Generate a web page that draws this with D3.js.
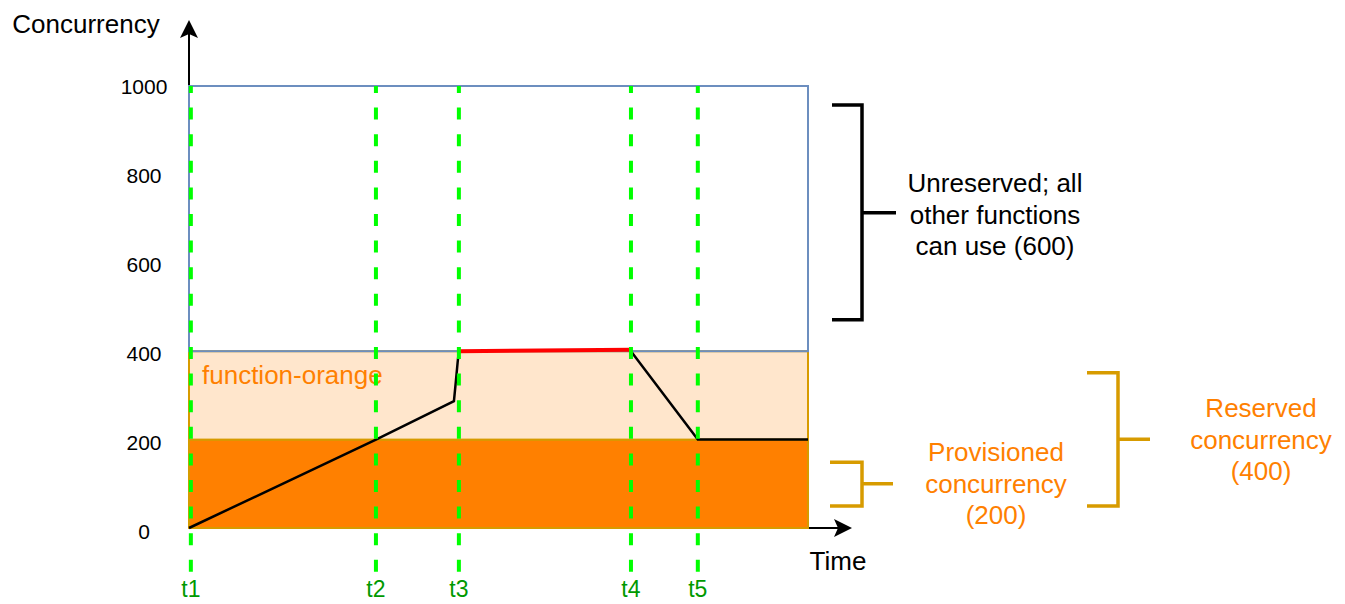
<!DOCTYPE html>
<html>
<head>
<meta charset="utf-8">
<script src="https://cdn.jsdelivr.net/npm/d3@7"></script>
<style>
  body { margin: 0; background: #fff; }
  svg { display: block; font-family: "Liberation Sans", Arial, Helvetica, sans-serif; }
</style>
</head>
<body>
<div id="chart"></div>
<script>
// y ticks
const yTicks = [0, 200, 400, 600, 800, 1000];

// time markers (x in arbitrary time units 0..100)
const timeNames = ["t1", "t2", "t3", "t4", "t5"];
const timeValues = [0.3, 30.2, 43.6, 71.4, 82.2];

// concurrency bands (drawn bottom first so the blue border sits on top)
const bands = [
  { lo: 0, hi: 200, fill: "#ff8000", stroke: "#d79b00" },
  { lo: 200, hi: 400, fill: "#ffe6cc", stroke: "#d79b00" },
  { lo: 400, hi: 1000, fill: "none", stroke: "#6c8ebf" }
];

// function usage over time
const rampUp = [[0, 0], [30.2, 200], [42.8, 287], [43.1, 330], [43.4, 375], [43.6, 400]];
const throttled = [[43.6, 400], [71.4, 403]];
const rampDown = [[71.4, 400], [82.2, 200], [100, 200]];

// bracket annotations: [top, bottom, middle] in concurrency units
const unreservedSpan = [957, 471, 713];
const provisionedSpan = [149, 50, 100];
const reservedSpan = [351, 50, 201];

const width = 1345, height = 604;
const margin = { top: 86, right: 537, bottom: 76, left: 189 };

const svg = d3.select("#chart").append("svg")
  .attr("width", width)
  .attr("height", height);

const x = d3.scaleLinear().domain([0, 100]).range([margin.left, width - margin.right]);
const y = d3.scaleLinear().domain([0, 1000]).range([height - margin.bottom, margin.top]);

// y axis arrow
svg.append("line")
  .attr("x1", x(0)).attr("x2", x(0))
  .attr("y1", y(0)).attr("y2", 30)
  .attr("stroke", "#000").attr("stroke-width", 2);
svg.append("path")
  .attr("d", `M${x(0)},20 L${x(0) + 9},38 L${x(0)},34 L${x(0) - 9},38 Z`)
  .attr("fill", "#000");

// x axis arrow
svg.append("line")
  .attr("x1", x(100)).attr("x2", x(100) + 38)
  .attr("y1", y(0)).attr("y2", y(0))
  .attr("stroke", "#000").attr("stroke-width", 2);
svg.append("path")
  .attr("d", `M${x(100) + 44},${y(0)} L${x(100) + 26},${y(0) - 9} L${x(100) + 30},${y(0)} L${x(100) + 26},${y(0) + 9} Z`)
  .attr("fill", "#000");

// bands
svg.selectAll("rect.band")
  .data(bands)
  .enter().append("rect")
  .attr("class", "band")
  .attr("x", x(0))
  .attr("width", x(100) - x(0))
  .attr("y", d => y(d.hi))
  .attr("height", d => y(d.lo) - y(d.hi))
  .attr("fill", d => d.fill)
  .attr("stroke", d => d.stroke)
  .attr("stroke-width", 2);

// y tick labels
svg.selectAll("text.ytick")
  .data(yTicks)
  .enter().append("text")
  .attr("class", "ytick")
  .attr("x", 144)
  .attr("y", d => y(d) + 8 + 3 * (1 - d / 1000))
  .attr("text-anchor", "middle")
  .attr("font-size", 21)
  .attr("fill", "#000")
  .text(d => d);

svg.append("text")
  .attr("x", 86).attr("y", 33)
  .attr("text-anchor", "middle")
  .attr("font-size", 26)
  .text("Concurrency");

svg.append("text")
  .attr("x", 838).attr("y", 570)
  .attr("text-anchor", "middle")
  .attr("font-size", 26)
  .text("Time");

svg.append("text")
  .attr("x", 202).attr("y", 384)
  .attr("font-size", 26)
  .attr("fill", "#ff8000")
  .text("function-orange");

// usage lines
const line = d3.line().x(d => x(d[0])).y(d => y(d[1]));
svg.append("path").datum(rampUp)
  .attr("d", line).attr("fill", "none")
  .attr("stroke", "#000").attr("stroke-width", 2.5);
svg.append("path").datum(rampDown)
  .attr("d", line).attr("fill", "none")
  .attr("stroke", "#000").attr("stroke-width", 2.5);
svg.append("path").datum(throttled)
  .attr("d", line).attr("fill", "none")
  .attr("stroke", "#ff0000").attr("stroke-width", 4);

// time markers
svg.selectAll("line.tmark")
  .data(timeValues)
  .enter().append("line")
  .attr("class", "tmark")
  .attr("x1", d => x(d)).attr("x2", d => x(d))
  .attr("y1", y(1000)).attr("y2", 572)
  .attr("stroke", "#00ff00")
  .attr("stroke-width", 4)
  .attr("stroke-dasharray", "12,14.6")
  .attr("stroke-dashoffset", 5);

svg.selectAll("text.tlabel")
  .data(timeValues)
  .enter().append("text")
  .attr("class", "tlabel")
  .attr("x", d => x(d))
  .attr("y", 597)
  .attr("text-anchor", "middle")
  .attr("font-size", 23)
  .attr("fill", "#009900")
  .text((d, i) => timeNames[i]);

// brackets
function bracket(span, xl, xv, xt, color) {
  svg.append("path")
    .attr("d", `M${xl},${y(span[0])} H${xv} V${y(span[1])} H${xl} M${xv},${y(span[2])} H${xt}`)
    .attr("fill", "none")
    .attr("stroke", color)
    .attr("stroke-width", 3.5);
}
bracket(unreservedSpan, 832, 862, 896, "#000");
bracket(provisionedSpan, 830, 862, 893, "#d79b00");
bracket(reservedSpan, 1087, 1118, 1150, "#d79b00");

function block(lines, cx, cy0, color) {
  svg.append("g").selectAll("text")
    .data(lines)
    .enter().append("text")
    .attr("x", cx)
    .attr("y", (d, i) => cy0 + i * 31.5 + 9)
    .attr("text-anchor", "middle")
    .attr("font-size", 26)
    .attr("fill", color)
    .text(d => d);
}
block(["Unreserved; all", "other functions", "can use (600)"], 995, 183, "#000");
block(["Provisioned", "concurrency", "(200)"], 996, 452, "#ff8000");
block(["Reserved", "concurrency", "(400)"], 1261, 408, "#ff8000");
</script>
</body>
</html>
